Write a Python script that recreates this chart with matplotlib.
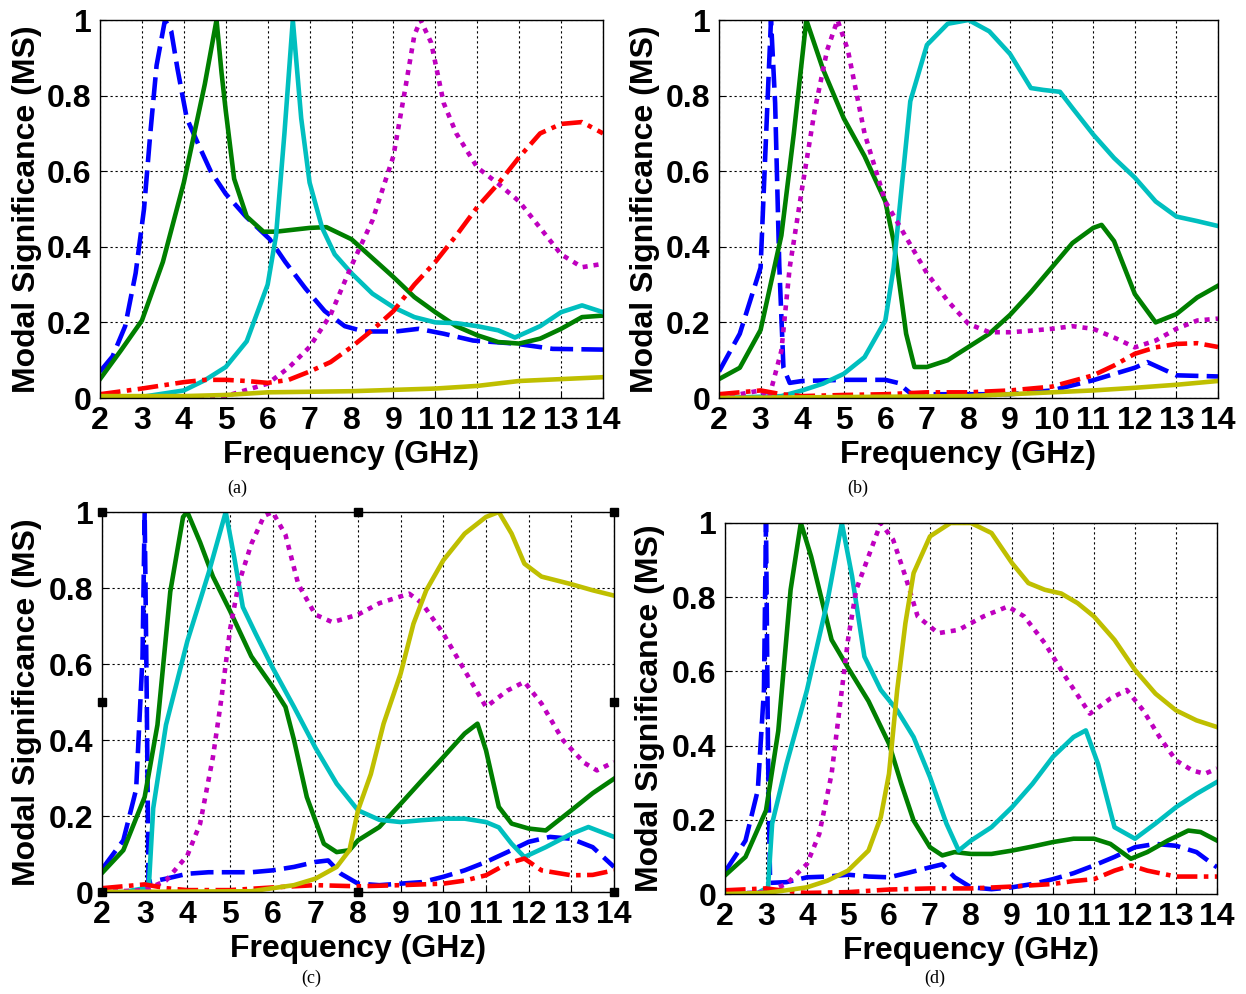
import matplotlib
matplotlib.use("Agg")
import matplotlib.pyplot as plt

# modal significance curves as (GHz, MS) pairs

# (a)
a_blue = [(2, 0.07), (2.3, 0.11), (2.6, 0.19), (2.85, 0.33), (3.05, 0.5), (3.2, 0.7), (3.35, 0.88),
          (3.55, 1.0), (3.7, 0.97), (3.85, 0.87), (4.07, 0.74), (4.35, 0.67), (4.64, 0.60), (5, 0.54),
          (5.48, 0.48), (6.05, 0.42), (6.42, 0.36), (6.9, 0.29), (7.36, 0.23), (7.84, 0.19),
          (8.3, 0.176), (9.06, 0.176), (9.6, 0.183), (10.2, 0.17), (10.9, 0.152), (11.9, 0.144),
          (12.8, 0.13), (14, 0.128)]
a_green = [(2, 0.05), (2.5, 0.126), (3, 0.205), (3.5, 0.36), (4, 0.57), (4.5, 0.83), (4.78, 1.0),
           (4.9, 0.86), (5, 0.76), (5.2, 0.58), (5.5, 0.48), (5.9, 0.44), (6.2, 0.44), (7, 0.45),
           (7.4, 0.452), (8, 0.42), (8.5, 0.37), (9, 0.32), (9.5, 0.267), (10, 0.227), (10.5, 0.19),
           (11, 0.166), (11.5, 0.148), (12, 0.144), (12.5, 0.157), (13, 0.183), (13.5, 0.214),
           (14, 0.218)]
a_cyan = [(2, 0.0), (3, 0.003), (4, 0.02), (4.5, 0.047), (5, 0.082), (5.5, 0.15), (6, 0.30),
          (6.2, 0.43), (6.4, 0.70), (6.6, 1.0), (6.8, 0.74), (7, 0.57), (7.3, 0.45), (7.6, 0.38),
          (8, 0.33), (8.5, 0.276), (9, 0.24), (9.5, 0.214), (10, 0.2), (10.5, 0.198), (11, 0.19),
          (11.5, 0.179), (11.9, 0.16), (12.5, 0.19), (13, 0.227), (13.5, 0.245), (14, 0.227)]
a_magenta = [(2, 0.0), (4, 0.0), (5, 0.005), (6, 0.038), (6.5, 0.08), (7, 0.135), (7.5, 0.22),
             (8, 0.35), (8.5, 0.47), (9, 0.64), (9.3, 0.83), (9.5, 0.96), (9.65, 1.0), (9.9, 0.94),
             (10.2, 0.78), (10.5, 0.70), (11, 0.61), (11.5, 0.567), (12, 0.52), (12.5, 0.45),
             (13, 0.38), (13.5, 0.346), (14, 0.355)]
a_red = [(2, 0.01), (3, 0.025), (4, 0.042), (4.5, 0.048), (5, 0.048), (5.5, 0.045), (6, 0.04),
         (6.5, 0.048), (7, 0.07), (7.5, 0.095), (8, 0.135), (8.5, 0.18), (9, 0.23), (9.5, 0.30),
         (10, 0.36), (10.5, 0.43), (11, 0.505), (11.5, 0.567), (12, 0.637), (12.5, 0.70),
         (13, 0.725), (13.5, 0.73), (14, 0.70)]
a_yellow = [(2, 0.005), (4, 0.005), (5, 0.008), (6, 0.015), (8, 0.018), (10, 0.025), (11, 0.032),
            (12, 0.045), (13, 0.05), (14, 0.055)]

# (b)
b_blue = [(2, 0.07), (2.5, 0.17), (3, 0.345), (3.1, 0.61), (3.25, 1.0), (3.35, 0.78), (3.45, 0.35),
          (3.55, 0.08), (3.7, 0.04), (4, 0.045), (5, 0.048), (6, 0.048), (6.3, 0.04), (6.6, 0.013),
          (7, 0.01), (9, 0.01), (10, 0.02), (11, 0.047), (12, 0.08), (12.3, 0.095), (13, 0.06),
          (14, 0.057)]
b_green = [(2, 0.05), (2.5, 0.08), (3, 0.18), (3.5, 0.43), (3.8, 0.70), (4.1, 1.0), (4.5, 0.87),
           (5, 0.74), (5.5, 0.64), (6, 0.52), (6.2, 0.415), (6.5, 0.17), (6.7, 0.082), (7, 0.082),
           (7.5, 0.1), (8, 0.135), (8.5, 0.17), (9, 0.22), (9.5, 0.28), (10, 0.345), (10.5, 0.41),
           (11, 0.45), (11.2, 0.458), (11.5, 0.415), (12, 0.275), (12.5, 0.2), (13, 0.222),
           (13.5, 0.266), (14, 0.297)]
b_cyan = [(2, 0.0), (3.5, 0.005), (4, 0.02), (4.5, 0.038), (5, 0.064), (5.5, 0.108), (6, 0.205),
          (6.2, 0.345), (6.4, 0.565), (6.6, 0.785), (7, 0.934), (7.5, 0.99), (8, 1.0), (8.5, 0.97),
          (9, 0.91), (9.5, 0.82), (9.8, 0.815), (10.2, 0.81), (10.5, 0.767), (11, 0.697),
          (11.5, 0.635), (12, 0.583), (12.5, 0.52), (13, 0.48), (13.5, 0.468), (14, 0.455)]
b_magenta = [(2, 0.0), (3, 0.02), (3.2, 0.0), (3.5, 0.125), (3.7, 0.345), (4, 0.556), (4.3, 0.76),
             (4.6, 0.92), (4.85, 1.0), (5.1, 0.92), (5.5, 0.70), (6, 0.52), (6.5, 0.425), (7, 0.33),
             (7.5, 0.257), (8, 0.196), (8.5, 0.174), (9, 0.174), (9.5, 0.178), (10, 0.183),
             (10.5, 0.19), (11, 0.183), (11.5, 0.16), (12, 0.134), (12.5, 0.152), (13, 0.183),
             (13.5, 0.205), (14, 0.21)]
b_red = [(2, 0.01), (3, 0.02), (3.5, 0.01), (4, 0.005), (5, 0.008), (6, 0.01), (7, 0.015),
         (8, 0.015), (9, 0.02), (10, 0.03), (10.5, 0.045), (11, 0.06), (11.5, 0.086), (12, 0.117),
         (12.5, 0.134), (13, 0.143), (13.5, 0.145), (14, 0.135)]
b_yellow = [(2, 0.0), (8, 0.005), (9, 0.01), (10, 0.015), (11, 0.02), (12, 0.027), (13, 0.035),
            (14, 0.045)]

# (c)
c_blue = [(2, 0.06), (2.5, 0.136), (2.8, 0.27), (2.95, 0.62), (3.0, 1.0), (3.05, 0.5), (3.09, 0.026),
          (3.5, 0.035), (4, 0.048), (4.5, 0.052), (5, 0.052), (5.5, 0.052), (6, 0.057), (6.5, 0.066),
          (7, 0.079), (7.3, 0.083), (7.6, 0.048), (8, 0.022), (8.5, 0.018), (9, 0.022), (9.5, 0.026),
          (10, 0.04), (10.5, 0.057), (11, 0.079), (11.5, 0.105), (12, 0.132), (12.5, 0.145),
          (13, 0.14), (13.5, 0.118), (14, 0.066)]
c_green = [(2, 0.05), (2.5, 0.11), (3, 0.25), (3.3, 0.44), (3.6, 0.79), (3.9, 0.987), (4.0, 1.0),
           (4.3, 0.92), (4.6, 0.83), (5, 0.74), (5.5, 0.62), (6, 0.54), (6.3, 0.487), (6.5, 0.40),
           (6.8, 0.25), (7.2, 0.127), (7.5, 0.105), (7.8, 0.11), (8, 0.136), (8.5, 0.171),
           (9, 0.232), (9.5, 0.294), (10, 0.355), (10.5, 0.417), (10.8, 0.443), (11, 0.373),
           (11.3, 0.224), (11.6, 0.18), (12, 0.167), (12.4, 0.162), (13, 0.215), (13.5, 0.26),
           (14, 0.298)]
c_cyan = [(2, 0.0), (2.5, 0.0), (3.0, 0.01), (3.1, 0.02), (3.2, 0.22), (3.5, 0.44), (4, 0.66),
          (4.5, 0.84), (4.9, 1.0), (5.1, 0.88), (5.3, 0.75), (5.6, 0.68), (6, 0.59), (6.5, 0.487),
          (7, 0.38), (7.5, 0.285), (8, 0.215), (8.5, 0.19), (9, 0.184), (9.5, 0.189), (10, 0.193),
          (10.5, 0.193), (11, 0.184), (11.3, 0.17), (11.6, 0.127), (11.9, 0.092), (12.4, 0.118),
          (13, 0.153), (13.4, 0.171), (13.7, 0.158), (14, 0.145)]
c_magenta = [(2, 0.0), (3, 0.005), (3.5, 0.03), (4, 0.096), (4.3, 0.18), (4.6, 0.355), (4.8, 0.51),
             (5.0, 0.69), (5.2, 0.81), (5.5, 0.916), (5.8, 0.99), (6.0, 1.0), (6.3, 0.94),
             (6.6, 0.81), (7.0, 0.73), (7.4, 0.71), (8, 0.73), (8.5, 0.76), (9.2, 0.785),
             (9.5, 0.76), (10, 0.68), (10.5, 0.583), (11, 0.487), (11.5, 0.53), (11.9, 0.553),
             (12.3, 0.496), (12.8, 0.40), (13.3, 0.34), (13.6, 0.32), (14, 0.342)]
c_red = [(2, 0.01), (3, 0.02), (3.5, 0.01), (4, 0.005), (5, 0.005), (6, 0.012), (7, 0.018),
         (8, 0.015), (9, 0.018), (10, 0.022), (10.5, 0.03), (11, 0.044), (11.5, 0.075),
         (11.9, 0.088), (12.3, 0.057), (13, 0.044), (13.5, 0.045), (14, 0.057)]
c_yellow = [(2, 0.0), (5.5, 0.002), (6, 0.01), (6.5, 0.018), (7, 0.035), (7.5, 0.066), (7.8, 0.11),
            (8, 0.215), (8.3, 0.31), (8.6, 0.443), (9, 0.575), (9.3, 0.706), (9.6, 0.794),
            (10, 0.873), (10.5, 0.943), (11, 0.987), (11.3, 1.0), (11.6, 0.943), (11.9, 0.864),
            (12.3, 0.83), (13, 0.81), (13.5, 0.794), (14, 0.78)]

# (d)
d_blue = [(2, 0.06), (2.5, 0.144), (2.8, 0.28), (2.95, 0.55), (3.0, 1.0), (3.05, 0.37), (3.1, 0.03),
          (3.5, 0.032), (4, 0.045), (4.5, 0.047), (5, 0.052), (5.5, 0.047), (6, 0.045), (6.5, 0.058),
          (7, 0.072), (7.3, 0.08), (7.6, 0.045), (8, 0.018), (8.5, 0.013), (9, 0.018), (9.5, 0.027),
          (10, 0.04), (10.5, 0.056), (11, 0.077), (11.5, 0.1), (12, 0.126), (12.5, 0.135),
          (13, 0.13), (13.5, 0.113), (14, 0.072)]
d_green = [(2, 0.05), (2.5, 0.1), (3, 0.225), (3.3, 0.44), (3.6, 0.82), (3.85, 1.0), (4.1, 0.91),
           (4.4, 0.775), (4.6, 0.685), (5, 0.61), (5.5, 0.52), (6, 0.405), (6.3, 0.297),
           (6.6, 0.198), (7, 0.126), (7.3, 0.104), (7.6, 0.113), (8, 0.108), (8.5, 0.108),
           (9, 0.117), (9.5, 0.128), (10, 0.14), (10.5, 0.149), (11, 0.149), (11.4, 0.135),
           (11.9, 0.095), (12.3, 0.113), (12.8, 0.144), (13.3, 0.171), (13.6, 0.167), (14, 0.144)]
d_cyan = [(2, 0.0), (2.8, 0.003), (3.05, 0.018), (3.15, 0.19), (3.5, 0.35), (4, 0.55), (4.5, 0.79),
          (4.85, 1.0), (5.1, 0.856), (5.4, 0.64), (5.8, 0.55), (6.2, 0.495), (6.6, 0.423),
          (7, 0.315), (7.4, 0.19), (7.7, 0.117), (8, 0.144), (8.5, 0.18), (9, 0.234), (9.5, 0.297),
          (10, 0.37), (10.5, 0.423), (10.8, 0.441), (11.1, 0.35), (11.5, 0.18), (12, 0.149),
          (12.5, 0.19), (13, 0.234), (13.5, 0.27), (14, 0.302)]
d_magenta = [(2, 0.0), (3, 0.005), (3.5, 0.027), (4, 0.081), (4.3, 0.162), (4.6, 0.324),
             (4.8, 0.505), (5.0, 0.685), (5.2, 0.82), (5.5, 0.91), (5.8, 1.0), (6.1, 0.955),
             (6.4, 0.856), (6.7, 0.748), (7.2, 0.703), (7.7, 0.712), (8.3, 0.748), (8.9, 0.775),
             (9.3, 0.748), (9.8, 0.676), (10.3, 0.586), (10.9, 0.486), (11.4, 0.527), (11.8, 0.55),
             (12.2, 0.495), (12.6, 0.423), (13, 0.36), (13.4, 0.333), (13.7, 0.324), (14, 0.338)]
d_red = [(2, 0.01), (3, 0.015), (3.5, 0.008), (4, 0.003), (5, 0.005), (6, 0.012), (7, 0.015),
         (8, 0.015), (9, 0.02), (10, 0.027), (10.5, 0.035), (11, 0.04), (11.5, 0.063),
         (11.9, 0.077), (12.3, 0.063), (13, 0.047), (14, 0.047)]
d_yellow = [(2, 0.0), (3, 0.003), (3.5, 0.01), (4, 0.018), (4.5, 0.036), (5, 0.063), (5.5, 0.117),
            (5.8, 0.207), (6.0, 0.324), (6.2, 0.55), (6.4, 0.73), (6.6, 0.865), (7, 0.964),
            (7.5, 1.0), (8, 1.0), (8.5, 0.973), (9, 0.892), (9.4, 0.838), (9.8, 0.82), (10.2, 0.81),
            (10.6, 0.784), (11, 0.748), (11.5, 0.685), (12, 0.604), (12.5, 0.54), (13, 0.495),
            (13.5, 0.468), (14, 0.45)]

panels = {
    '(a)': [a_blue, a_green, a_cyan, a_magenta, a_red, a_yellow],
    '(b)': [b_blue, b_green, b_cyan, b_magenta, b_red, b_yellow],
    '(c)': [c_blue, c_green, c_cyan, c_magenta, c_red, c_yellow],
    '(d)': [d_blue, d_green, d_cyan, d_magenta, d_red, d_yellow],
}

# matlab style colours / line styles, same order as the curves above
colors = ['#0000FF', '#007F00', '#00BFBF', '#BF00BF', '#FF0000', '#BFBF00']
dashes = [(5, 1.8), None, None, (1.1, 1.3), (4.5, 1.4, 1, 1.4), None]

W, H = 1246, 994
# axes boxes in pixels: left, top, right, bottom
boxes = {
    '(a)': (100, 20, 603, 398),
    '(b)': (719, 20, 1218, 398),
    '(c)': (102, 512, 614, 892),
    '(d)': (725, 523, 1217, 894),
}
ylabel_x = {'(a)': 27, '(b)': 645, '(c)': 27, '(d)': 650}
captions = {'(a)': (237, 488), '(b)': (858, 488), '(c)': (311, 978), '(d)': (935, 978)}

plt.rcParams['font.family'] = ['Liberation Sans', 'DejaVu Sans']
fig = plt.figure(figsize=(W / 100, H / 100), dpi=100)

for name, curves in panels.items():
    l, t, r, b = boxes[name]
    ax = fig.add_axes([l / W, 1 - b / H, (r - l) / W, (b - t) / H])
    for pts, col, ds in zip(curves, colors, dashes):
        xs = [p[0] for p in pts]
        ys = [p[1] for p in pts]
        line, = ax.plot(xs, ys, color=col, lw=3.3, solid_joinstyle='round')
        if ds is not None:
            line.set_dashes(ds)
    ax.set_xlim(2, 14)
    ax.set_ylim(0, 1)
    ax.set_xticks(range(2, 15))
    ax.set_yticks([0, 0.2, 0.4, 0.6, 0.8, 1])
    ax.set_yticklabels(['0', '0.2', '0.4', '0.6', '0.8', '1'])
    ax.grid(True, color='black', linestyle=(0, (2, 2.5)), linewidth=0.8)
    ax.tick_params(direction='in', length=4, labelsize=23, width=0.8, pad=6)
    for lab in ax.get_xticklabels() + ax.get_yticklabels():
        lab.set_fontweight('bold')
    for sp in ax.spines.values():
        sp.set_linewidth(1.0)
    ax.set_xlabel('Frequency (GHz)', fontsize=23, fontweight='bold', va='center')
    ax.xaxis.set_label_coords(0.5, -57 / (b - t))
    ax.set_ylabel('Modal Significance (MS)', fontsize=23, fontweight='bold', va='center')
    ax.yaxis.set_label_coords((ylabel_x[name] - l) / (r - l), 0.5)
    cx, cy = captions[name]
    fig.text(cx / W, 1 - cy / H, name, fontsize=13, family='Liberation Serif', ha='center', va='center')
    if name == '(c)':
        # selection handles left on the matlab axes
        hx = [2, 2, 2, 8, 14, 14, 14, 8]
        hy = [0, 0.5, 1, 1, 1, 0.5, 0, 0]
        ax.plot(hx, hy, 's', color='black', ms=6, clip_on=False, zorder=5)

fig.savefig('out.png', dpi=100)
